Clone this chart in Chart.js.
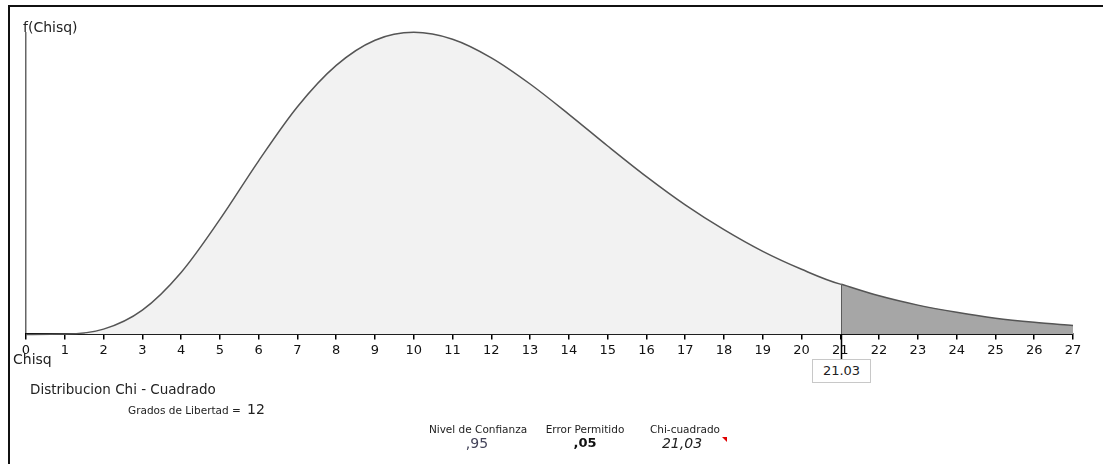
<!DOCTYPE html>
<html>
<head>
<meta charset="utf-8">
<script src="https://cdn.jsdelivr.net/npm/chart.js@4.4.1/dist/chart.umd.min.js"></script>
<style>
  body { margin: 0; background: #fff; font-family: "DejaVu Sans", sans-serif; color: #222; }
  #wrap { position: relative; width: 1103px; height: 464px; overflow: hidden; }
  #frame { position: absolute; left: 8px; top: 5px; right: -10px; bottom: -10px;
           border-left: 2px solid #111; border-top: 2px solid #111; pointer-events: none; }
  .t { position: absolute; white-space: nowrap; }
  .c { transform: translateX(-50%); }
  #critBox { position: absolute; top: 359px; width: 57px; height: 22px; border: 1px solid #c8c8c8;
             background: #fff; font-size: 13px; line-height: 22px; text-align: center; color: #222; }
  #tri { position: absolute; left: 722px; top: 437px; width: 0; height: 0;
         border-top: 5px solid #e00000; border-left: 5px solid transparent; }
</style>
</head>
<body>
<div id="wrap">
  <canvas id="chiChart" width="1103" height="464"></canvas>
  <div id="frame"></div>
  <div class="t" style="left:23px; top:19px; font-size:14px; line-height:16px;">f(Chisq)</div>
  <div class="t" style="left:13px; top:351px; font-size:14px; line-height:16px;">Chisq</div>
  <div class="t" style="left:30px; top:381px; font-size:13.5px; line-height:16px;">Distribucion Chi - Cuadrado</div>
  <div class="t" style="left:128px; top:404px; font-size:10.5px; line-height:12px;">Grados de Libertad =</div>
  <div class="t" style="left:247px; top:401px; font-size:14px; line-height:16px;">12</div>
  <div class="t c" style="left:478px; top:423px; font-size:10.5px; line-height:12px;">Nivel de Confianza</div>
  <div class="t c" style="left:477px; top:435px; font-size:14px; line-height:16px; color:#44445a;">,95</div>
  <div class="t c" style="left:585px; top:423px; font-size:10.5px; line-height:12px;">Error Permitido</div>
  <div class="t c" style="left:585px; top:435px; font-size:13px; line-height:16px; font-weight:bold; color:#111;">,05</div>
  <div class="t c" style="left:685px; top:423px; font-size:10.5px; line-height:12px;">Chi-cuadrado</div>
  <div class="t c" style="left:682px; top:435px; font-size:14px; line-height:16px; font-style:italic;">21,03</div>
  <div id="tri"></div>
  <div id="critBox">21.03</div>
</div>
<script>
// chi-square values on the x axis and the curve height read at each one (12 d.f.)
const chiValues = [0, 1, 2, 3, 4, 5, 6, 7, 8, 9, 10, 11, 12, 13, 14, 15, 16, 17, 18, 19, 20, 21, 22, 23, 24, 25, 26, 27];
const density = [0, 0.00008, 0.00153, 0.00706, 0.0180, 0.0334, 0.0504, 0.0661, 0.0781, 0.0854, 0.0877, 0.0857,
                 0.0803, 0.0727, 0.0639, 0.0547, 0.0458, 0.0376, 0.0304, 0.0241, 0.0189, 0.0146, 0.0112,
                 0.0085, 0.0064, 0.0047, 0.0035, 0.0026];
const criticalValue = 21.03;
const criticalDensity = 0.01455;

const accepted = [];
const rejected = [{ x: criticalValue, y: criticalDensity }];
chiValues.forEach((v, i) => {
    if (v <= criticalValue) accepted.push({ x: v, y: density[i] });
    else rejected.push({ x: v, y: density[i] });
});
accepted.push({ x: criticalValue, y: criticalDensity });

// draws the connector from the axis down to the value box and places the box
const criticalMarker = {
    id: 'criticalMarker',
    afterDraw(chart) {
        const xs = chart.scales.x;
        const px = Math.round(xs.getPixelForValue(criticalValue)) + 0.5;
        const ctx = chart.ctx;
        ctx.save();
        ctx.strokeStyle = '#000';
        ctx.lineWidth = 1.5;
        ctx.beginPath();
        ctx.moveTo(px, chart.chartArea.bottom);
        ctx.lineTo(px, 359);
        ctx.stroke();
        ctx.restore();
        const box = document.getElementById('critBox');
        box.style.left = (px - 29.5) + 'px';
    }
};

new Chart(document.getElementById('chiChart').getContext('2d'), {
    type: 'line',
    data: {
        datasets: [
            {
                data: accepted,
                borderColor: '#555',
                borderWidth: 1.5,
                backgroundColor: '#f2f2f2',
                fill: 'origin',
                pointRadius: 0,
                cubicInterpolationMode: 'monotone',
                clip: false
            },
            {
                data: rejected,
                borderColor: '#555',
                borderWidth: 1.5,
                backgroundColor: '#a6a6a6',
                fill: 'origin',
                pointRadius: 0,
                cubicInterpolationMode: 'monotone',
                clip: false
            },
            {
                data: [{ x: criticalValue, y: 0 }, { x: criticalValue, y: criticalDensity }],
                borderColor: '#000',
                borderWidth: 1.5,
                pointRadius: 0,
                fill: false,
                clip: false
            }
        ]
    },
    options: {
        responsive: false,
        animation: false,
        layout: { padding: { left: 26, right: 30, top: 32, bottom: 103 } },
        plugins: { legend: { display: false }, tooltip: { enabled: false } },
        scales: {
            x: {
                type: 'linear',
                min: 0,
                max: 27,
                ticks: {
                    stepSize: 1,
                    autoSkip: false,
                    maxRotation: 0,
                    padding: 3,
                    color: '#111',
                    font: { family: 'DejaVu Sans', size: 13 }
                },
                grid: {
                    color: c => c.index === 0 ? '#666' : 'rgba(0,0,0,0)',
                    lineWidth: 1.5,
                    tickColor: '#000',
                    tickLength: 5,
                    drawOnChartArea: true
                },
                border: { color: '#000', width: 2 }
            },
            y: {
                display: false,
                min: 0,
                max: 0.0878
            }
        }
    },
    plugins: [criticalMarker]
});
</script>
</body>
</html>
